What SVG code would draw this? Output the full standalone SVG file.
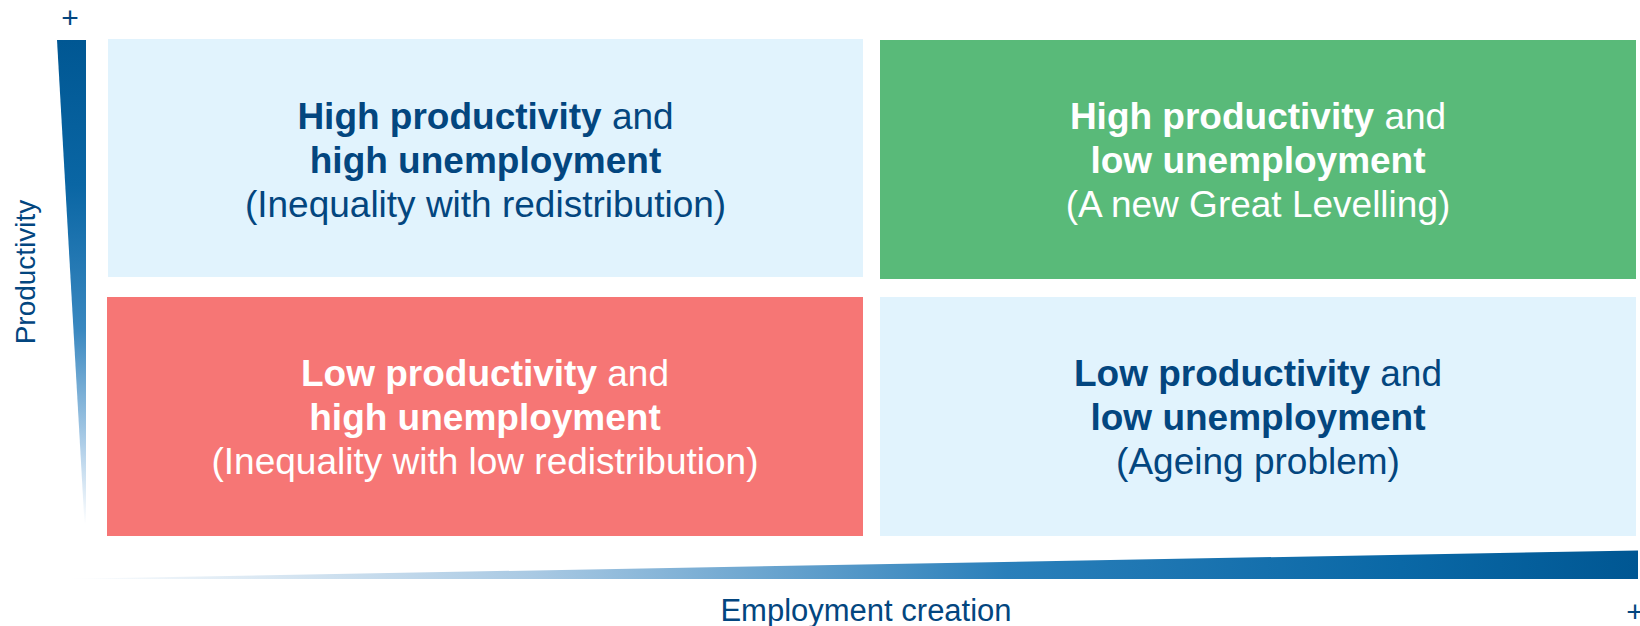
<svg xmlns="http://www.w3.org/2000/svg" width="1640" height="626" viewBox="0 0 1640 626">
<defs>
<linearGradient id="gv" x1="0" y1="40" x2="0" y2="524" gradientUnits="userSpaceOnUse">
<stop offset="0" stop-color="#005793"/>
<stop offset="0.3" stop-color="#0a66a4"/>
<stop offset="0.6" stop-color="#3a88c0"/>
<stop offset="0.85" stop-color="#b5d2ea"/>
<stop offset="1" stop-color="#ffffff"/>
</linearGradient>
<linearGradient id="gh" x1="60" y1="0" x2="1638" y2="0" gradientUnits="userSpaceOnUse">
<stop offset="0" stop-color="#ffffff"/>
<stop offset="0.3" stop-color="#a9c9e3"/>
<stop offset="0.6" stop-color="#2a7fba"/>
<stop offset="0.85" stop-color="#0a68a6"/>
<stop offset="1" stop-color="#005793"/>
</linearGradient>
<style>
text{font-family:"Liberation Sans",Arial,sans-serif;}
.q{font-size:37px;text-anchor:middle;}
.dk{fill:#03467f;}
.wt{fill:#ffffff;}
.b{font-weight:bold;}
.ax{font-size:30px;fill:#03467f;}
</style>
</defs>
<rect width="1640" height="626" fill="#ffffff"/>
<g id="axes">
<polygon points="57,40 86,40 86,524 84.5,524" fill="url(#gv)"/>
<polygon points="60,579 1638,550.5 1638,579" fill="url(#gh)"/>
<text class="ax" x="70" y="28" text-anchor="middle">+</text>
<text class="ax" x="1635" y="622" text-anchor="middle">+</text>
<text class="ax" x="866" y="621" text-anchor="middle" style="font-size:31px">Employment creation</text>
<text class="ax" transform="translate(35,272) rotate(-90)" text-anchor="middle" style="font-size:28px">Productivity</text>
</g>
<g id="q1">
<rect x="108" y="39" width="755" height="238" fill="#e1f3fd"/>
<text class="q dk" x="485.5" y="129"><tspan class="b">High productivity</tspan> and</text>
<text class="q dk b" x="485.5" y="173">high unemployment</text>
<text class="q dk" x="485.5" y="217">(Inequality with redistribution)</text>
</g>
<g id="q2">
<rect x="880" y="40" width="756" height="239" fill="#59ba79"/>
<text class="q wt" x="1258" y="129"><tspan class="b">High productivity</tspan> and</text>
<text class="q wt b" x="1258" y="173">low unemployment</text>
<text class="q wt" x="1258" y="217">(A new Great Levelling)</text>
</g>
<g id="q3">
<rect x="107" y="297" width="756" height="239" fill="#f67675"/>
<text class="q wt" x="485" y="386"><tspan class="b">Low productivity</tspan> and</text>
<text class="q wt b" x="485" y="430">high unemployment</text>
<text class="q wt" x="485" y="474">(Inequality with low redistribution)</text>
</g>
<g id="q4">
<rect x="880" y="297" width="756" height="239" fill="#e1f3fd"/>
<text class="q dk" x="1258" y="386"><tspan class="b">Low productivity</tspan> and</text>
<text class="q dk b" x="1258" y="430">low unemployment</text>
<text class="q dk" x="1258" y="474">(Ageing problem)</text>
</g>
<g id="connectors"></g>
</svg>
